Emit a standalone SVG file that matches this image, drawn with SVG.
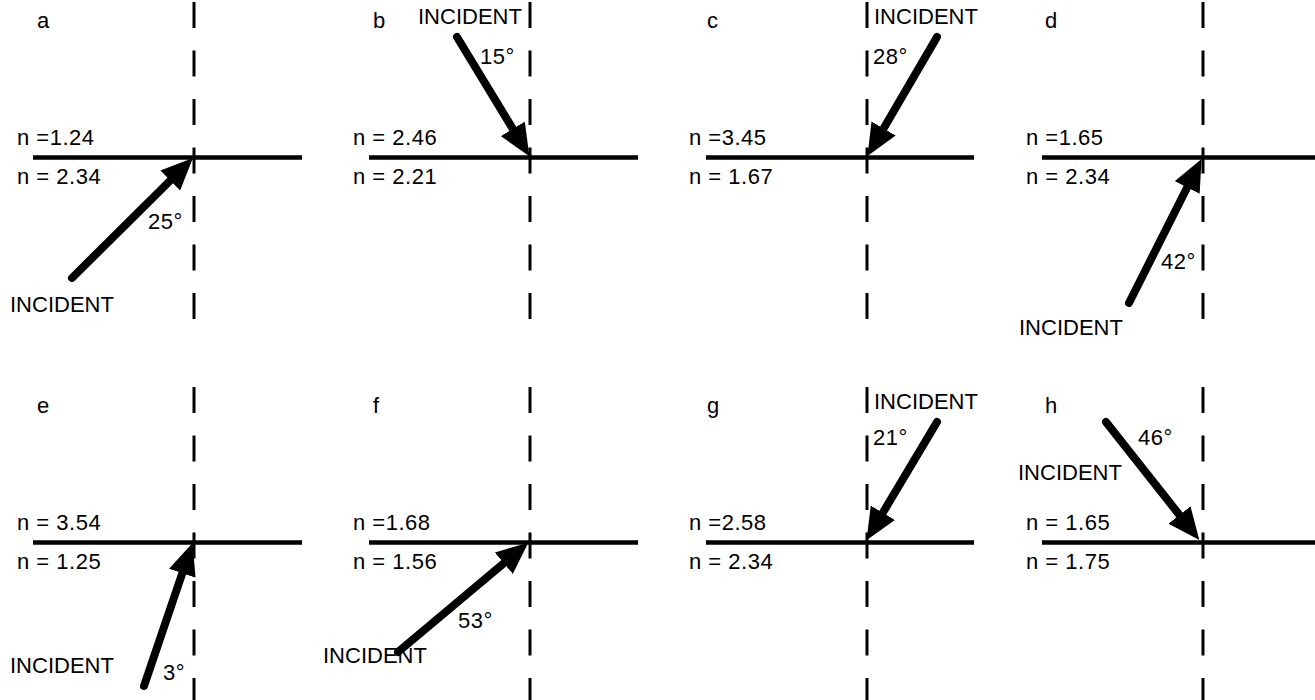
<svg xmlns="http://www.w3.org/2000/svg" width="1315" height="700" viewBox="0 0 1315 700">
<style>
text{font-family:"Liberation Sans",Arial,Helvetica,sans-serif;font-size:22px;fill:#000;letter-spacing:0.5px}
.inc{letter-spacing:0px}
.iface{stroke:#000;stroke-width:4.5;fill:none}
.normal{stroke:#000;stroke-width:3;fill:none;stroke-dasharray:26 22.5}
.ray{stroke:#000;stroke-width:8;fill:none;stroke-linecap:round;marker-end:url(#head)}
</style>
<defs>
<marker id="head" markerUnits="userSpaceOnUse" markerWidth="33" markerHeight="28" refX="5" refY="14" orient="auto" viewBox="0 0 33 28">
<path d="M0,0 L32,14 L0,28 Z" fill="#000"/>
</marker>
</defs>

<g id="panel-a">
<line class="normal" x1="194" y1="2" x2="194" y2="320"/>
<line class="iface" x1="33" y1="157.5" x2="302" y2="157.5"/>
<text x="37" y="28">a</text>
<text x="17" y="145">n =1.24</text>
<text x="17" y="184">n = 2.34</text>
<text x="148" y="229">25°</text>
<text class="inc" x="10" y="312">INCIDENT</text>
</g>

<g id="panel-b">
<line class="normal" x1="530" y1="2" x2="530" y2="320"/>
<line class="iface" x1="369" y1="157.5" x2="638" y2="157.5"/>
<text x="373" y="28">b</text>
<text class="inc" x="418" y="24">INCIDENT</text>
<text x="480" y="64">15°</text>
<text x="353" y="145">n = 2.46</text>
<text x="353" y="184">n = 2.21</text>
</g>

<g id="panel-c">
<line class="normal" x1="867" y1="2" x2="867" y2="320"/>
<line class="iface" x1="706" y1="157.5" x2="974" y2="157.5"/>
<text x="707" y="28">c</text>
<text class="inc" x="874" y="24">INCIDENT</text>
<text x="873" y="64">28°</text>
<text x="689" y="145">n =3.45</text>
<text x="689" y="184">n = 1.67</text>
</g>

<g id="panel-d">
<line class="normal" x1="1203" y1="2" x2="1203" y2="320"/>
<line class="iface" x1="1042" y1="157.5" x2="1315" y2="157.5"/>
<text x="1045" y="28">d</text>
<text x="1026" y="145">n =1.65</text>
<text x="1026" y="184">n = 2.34</text>
<text x="1161" y="269">42°</text>
<text class="inc" x="1019" y="335">INCIDENT</text>
</g>

<g id="panel-e">
<line class="normal" x1="194" y1="387" x2="194" y2="700"/>
<line class="iface" x1="33" y1="542.5" x2="302" y2="542.5"/>
<text x="37" y="413">e</text>
<text x="17" y="530">n = 3.54</text>
<text x="17" y="569">n = 1.25</text>
<text x="163" y="680">3°</text>
<text class="inc" x="10" y="673">INCIDENT</text>
</g>

<g id="panel-f">
<line class="normal" x1="530" y1="387" x2="530" y2="700"/>
<line class="iface" x1="369" y1="542.5" x2="638" y2="542.5"/>
<text x="373" y="413">f</text>
<text x="353" y="530">n =1.68</text>
<text x="353" y="569">n = 1.56</text>
<text x="458" y="628">53°</text>
<text class="inc" x="323" y="663">INCIDENT</text>
</g>

<g id="panel-g">
<line class="normal" x1="867" y1="387" x2="867" y2="700"/>
<line class="iface" x1="706" y1="542.5" x2="974" y2="542.5"/>
<text x="707" y="413">g</text>
<text class="inc" x="874" y="409">INCIDENT</text>
<text x="873" y="445">21°</text>
<text x="689" y="530">n =2.58</text>
<text x="689" y="569">n = 2.34</text>
</g>

<g id="panel-h">
<line class="normal" x1="1203" y1="387" x2="1203" y2="700"/>
<line class="iface" x1="1042" y1="542.5" x2="1315" y2="542.5"/>
<text x="1045" y="413">h</text>
<text x="1138" y="445">46°</text>
<text class="inc" x="1018" y="480">INCIDENT</text>
<text x="1026" y="530">n = 1.65</text>
<text x="1026" y="569">n = 1.75</text>
</g>

<g id="connectors">
<line class="ray" x1="72" y1="278" x2="173.8" y2="177.0"/>
<line class="ray" x1="457" y1="37" x2="515.4" y2="133.1"/>
<line class="ray" x1="937" y1="37" x2="881.1" y2="132.8"/>
<line class="ray" x1="1129" y1="303" x2="1189.4" y2="183.0"/>
<line class="ray" x1="144" y1="686" x2="183.9" y2="568.5"/>
<line class="ray" x1="398" y1="652" x2="507.6" y2="560.0"/>
<line class="ray" x1="937" y1="422" x2="880.3" y2="517.0"/>
<line class="ray" x1="1106" y1="422" x2="1182.6" y2="518.9"/>
</g>
</svg>
